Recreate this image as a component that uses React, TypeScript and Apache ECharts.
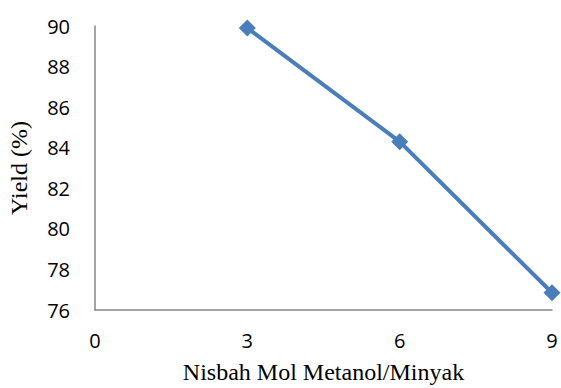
import React, { useEffect, useRef } from "react";
import * as echarts from "echarts";

const xValues = [3, 6, 9];
const yieldValues = [89.9, 84.3, 76.85];
const yTicks = [76, 78, 80, 82, 84, 86, 88, 90];
const xTicks = [0, 3, 6, 9];

export default function App() {
  const ref = useRef<HTMLDivElement>(null);
  useEffect(() => {
    if (!ref.current) return;
    const chart = echarts.init(ref.current, null, { renderer: "svg" });
    chart.setOption({
      animation: false,
      backgroundColor: "#ffffff",
      grid: { left: 95, right: 9, top: 26, bottom: 78, containLabel: false, outerBoundsMode: "none" },
      xAxis: {
        type: "value",
        min: xTicks[0],
        max: xTicks[xTicks.length - 1],
        interval: 3,
        name: "Nisbah Mol Metanol/Minyak",
        nameLocation: "middle",
        nameGap: 50,
        nameTextStyle: { fontFamily: "Liberation Serif", fontSize: 24, fontWeight: "normal", color: "#000" },
        axisLine: { show: true, lineStyle: { color: "#868686", width: 1.5 } },
        axisTick: { show: false },
        splitLine: { show: false },
        axisLabel: { fontFamily: "Open Sans", fontSize: 20, color: "#000", margin: 20 },
      },
      yAxis: {
        type: "value",
        min: yTicks[0],
        max: yTicks[yTicks.length - 1],
        interval: 2,
        name: "Yield (%)",
        nameLocation: "middle",
        nameGap: 64,
        nameRotate: 90,
        nameTextStyle: { fontFamily: "Liberation Serif", fontSize: 24, fontWeight: "normal", color: "#000" },
        axisLine: { show: true, lineStyle: { color: "#868686", width: 1.5 } },
        axisTick: { show: false },
        splitLine: { show: false },
        axisLabel: { fontFamily: "Open Sans", fontSize: 20, color: "#000", margin: 25 },
      },
      series: [
        {
          type: "line",
          data: xValues.map((x, i) => [x, yieldValues[i]]),
          symbol: "diamond",
          symbolSize: 17,
          lineStyle: { color: "#4a7ebb", width: 4 },
          itemStyle: { color: "#4a7ebb" },
        },
      ],
    });
    return () => chart.dispose();
  }, []);
  return <div ref={ref} style={{ width: 561, height: 388, position: "absolute", left: 0, top: 0 }} />;
}
